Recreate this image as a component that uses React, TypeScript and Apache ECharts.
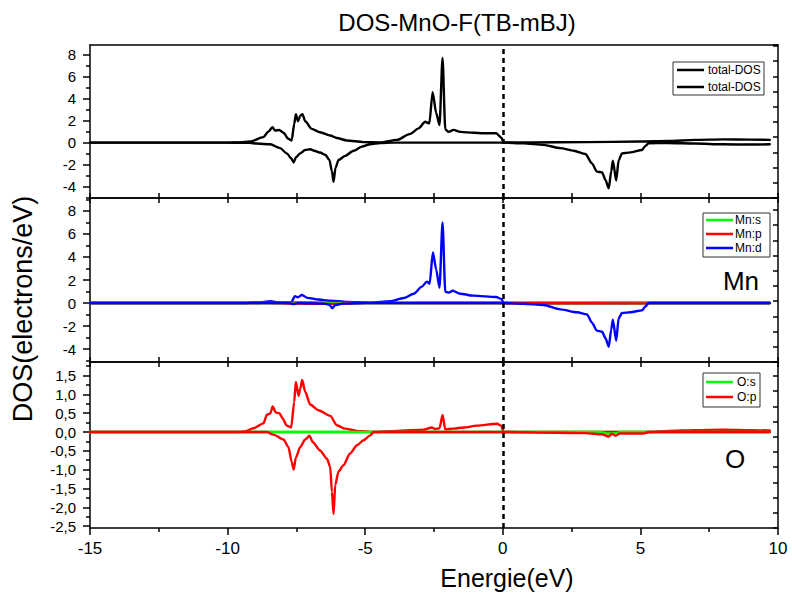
import React, { useEffect, useRef } from "react";
import * as echarts from "echarts";

const FONT = "Arial, 'Liberation Sans', Helvetica, sans-serif";

// ---- tick values ----
const energyRange = [-15, 10];
const dosMajorTicks = [-4, -2, 0, 2, 4, 6, 8];
const dosMinorTicks1 = [-5, -3, -1, 1, 3, 5, 7];
const dosMinorTicks2 = [-5, -3, -1, 1, 3, 5, 7, 9];
const oMajorTicks = [-2.5, -2, -1.5, -1, -0.5, 0, 0.5, 1, 1.5];
const oMinorTicks = [-2.25, -1.75, -1.25, -0.75, -0.25, 0.25, 0.75, 1.25, 1.75];

// ---- panel 1: total DOS ----
const totalUp: [number, number][] = [
  [-15, 0], [-10, 0], [-9.55, 0.02], [-9.18, 0.1], [-8.7, 0.5], [-8.52, 1.0], [-8.37, 1.4], [-8.27, 1.1],
  [-8.12, 1.15], [-7.97, 0.9], [-7.79, 0.35], [-7.67, 0.2], [-7.58, 1.7], [-7.52, 2.6], [-7.44, 1.95],
  [-7.36, 2.45], [-7.28, 2.6], [-7.18, 1.95], [-6.94, 1.25], [-6.64, 0.95], [-6.27, 0.65], [-6.03, 0.42],
  [-5.67, 0.2], [-5.06, 0.05], [-4.45, 0.02], [-3.85, 0.25], [-3.36, 0.8], [-3.06, 1.3], [-2.82, 1.9],
  [-2.67, 1.75], [-2.55, 4.6], [-2.42, 2.7], [-2.3, 1.6], [-2.19, 7.7], [-2.09, 1.2], [-1.97, 0.98],
  [-1.79, 1.16], [-1.55, 0.98], [-1.06, 0.9], [-0.7, 0.85], [-0.24, 0.85], [-0.05, 0.45], [0.03, 0.02],
  [1, 0.02], [3, 0.05], [5, 0.1], [6, 0.15], [7, 0.25], [8, 0.3], [9, 0.28], [9.7, 0.25],
];
const totalDown: [number, number][] = [
  [-15, 0], [-10, 0], [-9.2, -0.02], [-8.94, -0.08], [-8.45, -0.15], [-8.09, -0.5], [-7.85, -0.97],
  [-7.69, -1.42], [-7.6, -1.8], [-7.51, -1.3], [-7.36, -0.97], [-7.18, -0.66], [-7.0, -0.6], [-6.82, -0.76],
  [-6.64, -0.9], [-6.45, -1.1], [-6.3, -1.58], [-6.21, -2.6], [-6.15, -3.55], [-6.08, -2.3], [-5.97, -1.58],
  [-5.73, -1.2], [-5.42, -0.73], [-5.12, -0.36], [-4.82, -0.15], [-4.45, -0.03], [-4.0, 0], [0.03, 0],
  [0.76, -0.06], [1.48, -0.2], [2.09, -0.5], [2.58, -0.73], [3.0, -1.03], [3.24, -1.88], [3.42, -2.63],
  [3.61, -2.7], [3.73, -3.4], [3.85, -4.15], [3.94, -2.6], [4.0, -1.64], [4.12, -3.45], [4.21, -1.6],
  [4.33, -0.97], [4.64, -0.88], [5.06, -0.66], [5.18, -0.3], [5.3, -0.05], [6, -0.03], [7, -0.08],
  [8, -0.15], [9, -0.17], [9.7, -0.15],
];

// ---- panel 2: Mn ----
const mnSUp: [number, number][] = [[-15, 0], [9.7, 0]];
const mnSDown: [number, number][] = [[-15, 0], [9.7, 0]];
const mnPUp: [number, number][] = [[-15, 0], [-9, 0], [-8.4, 0.03], [-7.5, 0.05], [-6.5, 0.03], [-5, 0.01], [0, 0], [9.7, 0]];
const mnPDown: [number, number][] = [
  [-15, 0], [-8.5, 0], [-7.6, -0.05], [-6.2, -0.08], [-5, -0.01], [0, 0], [0.03, -0.02], [5.3, -0.03], [5.4, 0], [9.7, 0],
];
const mnDUp: [number, number][] = [
  [-15, 0], [-9.5, 0], [-8.9, 0.05], [-8.45, 0.15], [-8.1, 0.05], [-7.7, 0], [-7.55, 0.6], [-7.45, 0.5],
  [-7.3, 0.7], [-7.1, 0.45], [-6.7, 0.3], [-6.27, 0.2], [-5.67, 0.1], [-4.82, 0.03], [-4.09, 0.15],
  [-3.6, 0.43], [-3.24, 0.8], [-2.94, 1.42], [-2.76, 1.86], [-2.66, 1.68], [-2.54, 4.4], [-2.42, 2.9],
  [-2.3, 1.33], [-2.19, 7.0], [-2.09, 0.98], [-1.97, 0.9], [-1.82, 1.07], [-1.55, 0.8], [-1.06, 0.64],
  [-0.24, 0.52], [-0.05, 0.35], [0.03, 0], [9.7, 0],
];
const mnDDown: [number, number][] = [
  [-15, 0], [-7.75, 0], [-7.6, -0.1], [-7.45, 0], [-6.5, -0.05], [-6.3, -0.15], [-6.2, -0.46], [-6.1, -0.2],
  [-5.8, -0.05], [-5.0, 0], [0.03, 0], [0.76, -0.06], [1.48, -0.17], [2.09, -0.55], [2.7, -0.81], [3.06, -1.0],
  [3.24, -1.71], [3.42, -2.4], [3.61, -2.5], [3.73, -3.07], [3.85, -3.8], [3.94, -2.3], [4.0, -1.45],
  [4.12, -3.28], [4.21, -1.33], [4.33, -0.87], [4.64, -0.8], [5.06, -0.64], [5.18, -0.3], [5.3, 0], [9.7, 0],
];

// ---- panel 3: O ----
const oSUp: [number, number][] = [[-15, 0], [9.7, 0]];
const oSDown: [number, number][] = [[-15, 0], [3.5, 0], [3.8, -0.04], [4.1, -0.03], [4.3, 0], [9.7, 0]];
const oPUp: [number, number][] = [
  [-15, 0], [-9.6, 0], [-9.36, 0.02], [-9.06, 0.1], [-8.7, 0.23], [-8.57, 0.46], [-8.45, 0.49], [-8.36, 0.68],
  [-8.25, 0.52], [-8.12, 0.5], [-8.0, 0.36], [-7.85, 0.17], [-7.69, 0.12], [-7.58, 0.8], [-7.52, 1.33],
  [-7.42, 0.96], [-7.36, 1.15], [-7.29, 1.38], [-7.18, 1.07], [-7.0, 0.73], [-6.7, 0.58], [-6.27, 0.43],
  [-6.03, 0.18], [-5.73, 0.09], [-5.3, 0.03], [-4.7, 0], [-3.85, 0.03], [-2.88, 0.06], [-2.58, 0.12],
  [-2.45, 0.08], [-2.3, 0.1], [-2.19, 0.45], [-2.09, 0.07], [-1.79, 0.09], [-1.42, 0.12], [-0.94, 0.17],
  [-0.21, 0.22], [-0.06, 0.17], [0.03, 0], [5.3, 0], [6, 0.03], [7, 0.05], [8, 0.06], [9, 0.05], [9.7, 0.04],
];
const oPDown: [number, number][] = [
  [-15, 0], [-8.58, 0], [-8.33, -0.07], [-7.97, -0.2], [-7.79, -0.4], [-7.67, -0.8], [-7.6, -1.0],
  [-7.52, -0.68], [-7.36, -0.4], [-7.18, -0.2], [-7.03, -0.1], [-6.9, -0.27], [-6.64, -0.49], [-6.39, -0.71],
  [-6.27, -0.93], [-6.21, -1.59], [-6.15, -2.18], [-6.09, -1.41], [-5.97, -1.05], [-5.79, -0.88],
  [-5.55, -0.57], [-5.3, -0.35], [-5.06, -0.22], [-4.82, -0.09], [-4.7, 0], [0.03, 0], [2, -0.02],
  [3, -0.03], [3.6, -0.06], [3.85, -0.12], [3.95, -0.05], [4.1, -0.1], [4.25, -0.04], [5.1, -0.04],
  [5.3, 0], [9.7, 0],
];

const BLACK = "#000000";
const GREEN = "#00ff00";
const RED = "#ff0000";
const BLUE = "#0000ff";

const panels = [
  {
    top: 45, height: 153, min: -5.03, max: 8.88, major: dosMajorTicks, minor: dosMinorTicks1, comma: false,
    series: [
      { name: "total-DOS", data: totalUp, color: BLACK },
      { name: "total-DOS", data: totalDown, color: BLACK },
    ],
  },
  {
    top: 198, height: 164, min: -5.13, max: 9.13, major: dosMajorTicks, minor: dosMinorTicks2, comma: false,
    series: [
      { name: "Mn:s", data: mnSUp, color: GREEN },
      { name: "Mn:p", data: mnPUp, color: RED },
      { name: "Mn:d", data: mnDUp, color: BLUE },
      { name: "Mn:s", data: mnSDown, color: GREEN },
      { name: "Mn:p", data: mnPDown, color: RED },
      { name: "Mn:d", data: mnDDown, color: BLUE },
    ],
  },
  {
    top: 362, height: 166, min: -2.55, max: 1.86, major: oMajorTicks, minor: oMinorTicks, comma: true,
    series: [
      { name: "O:s", data: oSUp, color: GREEN },
      { name: "O:p", data: oPUp, color: RED },
      { name: "O:s", data: oSDown, color: GREEN },
      { name: "O:p", data: oPDown, color: RED },
    ],
  },
];

const legends = [
  { x: 673, y: 62, w: 91, h: 33, lineX: 677, textX: 708, items: [{ t: "total-DOS", c: BLACK, y: 70 }, { t: "total-DOS", c: BLACK, y: 87 }] },
  { x: 703, y: 213, w: 67, h: 44, lineX: 706, textX: 735, items: [{ t: "Mn:s", c: GREEN, y: 220 }, { t: "Mn:p", c: RED, y: 234 }, { t: "Mn:d", c: BLUE, y: 248 }] },
  { x: 703, y: 373, w: 57, h: 34, lineX: 706, textX: 737, items: [{ t: "O:s", c: GREEN, y: 382 }, { t: "O:p", c: RED, y: 397 }] },
];

function buildOption() {
  const axisLineStyle = { color: BLACK, width: 1.5 };
  const option: any = {
    animation: false,
    backgroundColor: "#ffffff",
    grid: [],
    xAxis: [],
    yAxis: [],
    series: [],
    graphic: [],
  };
  panels.forEach((p, i) => {
    const g = option.grid.length;
    option.grid.push({ left: 90, right: 14, top: p.top, height: p.height, outerBoundsMode: "none" });
    const og = option.grid.length;
    option.grid.push({ left: 90, right: 14, top: p.top, height: p.height, outerBoundsMode: "none" });
    const isBottom = i === panels.length - 1;

    const xb = option.xAxis.length;
    option.xAxis.push({
      gridIndex: g, type: "value", position: "bottom", min: energyRange[0], max: energyRange[1],
      interval: isBottom ? 5 : 2.5,
      axisLine: { show: true, onZero: false, lineStyle: axisLineStyle },
      axisTick: { show: true, inside: !isBottom, length: isBottom ? 7 : 5, lineStyle: axisLineStyle },
      minorTick: isBottom ? { show: true, splitNumber: 2, length: 4, lineStyle: axisLineStyle } : { show: false },
      axisLabel: isBottom
        ? { show: true, fontSize: 17, color: BLACK, fontFamily: FONT, margin: 12 }
        : { show: false },
      splitLine: { show: false },
    });
    option.xAxis.push({
      gridIndex: g, type: "value", position: "top", min: energyRange[0], max: energyRange[1], interval: 2.5,
      axisLine: { show: true, onZero: false, lineStyle: axisLineStyle },
      axisTick: { show: i > 0, inside: true, length: 5, lineStyle: axisLineStyle },
      axisLabel: { show: false },
      splitLine: { show: false },
    });
    option.xAxis.push({ gridIndex: og, type: "value", min: energyRange[0], max: energyRange[1], show: false });

    const yl = option.yAxis.length;
    const fmt = (v: number) => (p.comma ? v.toFixed(1).replace(".", ",") : String(Math.round(v)));
    option.yAxis.push({
      gridIndex: g, type: "value", position: "left", min: p.min, max: p.max,
      axisLine: { show: true, onZero: false, lineStyle: axisLineStyle },
      axisTick: { show: true, inside: false, length: 7, customValues: p.major, lineStyle: axisLineStyle },
      axisLabel: { show: true, customValues: p.major, formatter: fmt, fontSize: 15, color: BLACK, fontFamily: FONT, margin: 14 },
      splitLine: { show: false },
    });
    option.yAxis.push({
      gridIndex: g, type: "value", position: "right", min: 0, max: p.height, interval: 15.2,
      axisLine: { show: true, onZero: false, lineStyle: axisLineStyle },
      axisTick: { show: true, inside: true, length: 5, lineStyle: axisLineStyle },
      axisLabel: { show: false },
      splitLine: { show: false },
    });
    option.yAxis.push({
      gridIndex: og, type: "value", position: "left", min: p.min, max: p.max,
      axisLine: { show: false, onZero: false },
      axisTick: { show: true, inside: false, length: 4, customValues: p.minor, lineStyle: axisLineStyle },
      axisLabel: { show: false },
      splitLine: { show: false },
    });

    p.series.forEach((s, k) => {
      const ser: any = {
        type: "line", name: s.name, data: s.data, xAxisIndex: xb, yAxisIndex: yl,
        showSymbol: false, symbol: "none", smooth: 0.25, smoothMonotone: "x", silent: true,
        lineStyle: { color: s.color, width: 2.4, join: "round", cap: "round" }, itemStyle: { color: s.color },
      };
      if (k === p.series.length - 1) {
        ser.markLine = {
          silent: true, symbol: ["none", "none"], label: { show: false },
          lineStyle: { color: BLACK, type: [5, 4], width: 2.5 },
          data: [{ xAxis: 0 }],
        };
      }
      option.series.push(ser);
    });
  });

  // legends
  legends.forEach((L) => {
    option.graphic.push({
      type: "rect", shape: { x: L.x, y: L.y, width: L.w, height: L.h },
      style: { fill: "#ffffff", stroke: "#333", lineWidth: 1 }, z: 50,
    });
    L.items.forEach((it) => {
      option.graphic.push({
        type: "line", shape: { x1: L.lineX, y1: it.y, x2: L.lineX + 27, y2: it.y },
        style: { stroke: it.c, lineWidth: 2.5 }, z: 51,
      });
      option.graphic.push({
        type: "text", x: L.textX, y: it.y, z: 51,
        style: { text: it.t, fill: BLACK, font: `12px ${FONT}`, verticalAlign: "middle" },
      });
    });
  });

  // texts
  option.graphic.push({
    type: "text", x: 457, y: 22, z: 60,
    style: { text: "DOS-MnO-F(TB-mBJ)", fill: BLACK, font: `24px ${FONT}`, align: "center", verticalAlign: "middle" },
  });
  option.graphic.push({
    type: "text", x: 507, y: 578, z: 60,
    style: { text: "Energie(eV)", fill: BLACK, font: `25px ${FONT}`, align: "center", verticalAlign: "middle" },
  });
  option.graphic.push({
    type: "text", x: 23, y: 309, rotation: Math.PI / 2, z: 60,
    style: { text: "DOS(electrons/eV)", fill: BLACK, font: `27px ${FONT}`, align: "center", verticalAlign: "middle" },
  });
  option.graphic.push({
    type: "text", x: 741, y: 281, z: 60,
    style: { text: "Mn", fill: BLACK, font: `26px ${FONT}`, align: "center", verticalAlign: "middle" },
  });
  option.graphic.push({
    type: "text", x: 735, y: 459, z: 60,
    style: { text: "O", fill: BLACK, font: `26px ${FONT}`, align: "center", verticalAlign: "middle" },
  });
  return option;
}

export default function App() {
  const ref = useRef<HTMLDivElement>(null);
  useEffect(() => {
    if (!ref.current) return;
    const chart = echarts.init(ref.current, undefined, { renderer: "svg" });
    chart.setOption(buildOption());
    return () => chart.dispose();
  }, []);
  return (
    <div
      ref={ref}
      style={{ position: "fixed", left: 0, top: 0, width: 792, height: 597, background: "#fff" }}
    />
  );
}
